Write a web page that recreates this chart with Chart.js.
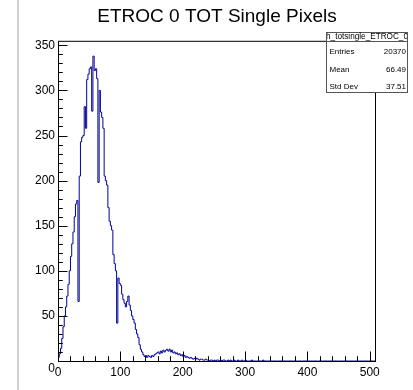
<!DOCTYPE html>
<html>
<head>
<meta charset="utf-8">
<title>ETROC 0 TOT Single Pixels</title>
<script src="https://cdn.jsdelivr.net/npm/chart.js@4.4.1/dist/chart.umd.min.js"></script>
<style>
  body { margin: 0; background: #fff; }
  #wrap { position: relative; width: 413px; height: 390px; }
  #edge { position: absolute; left: 17px; top: 0; width: 2px; height: 390px; background: #cfcfcf; }
</style>
</head>
<body>
<div id="wrap">
  <canvas id="totChart" width="413" height="390"></canvas>
  <div id="edge"></div>
</div>
<script>
const chartTitle = "ETROC 0 TOT Single Pixels";
const histName = "h_totsingle_ETROC_0";
const statLabels = ["Entries", "Mean", "Std Dev"];
const statValues = ["20370", "66.49", "37.51"];

// TOT axis: bins of 2 units from 0 to 510
const xMin = 0;
const xMax = 510;
const binWidth = 2;
const yMax = 355;
const xMajor = 100;
const xMinor = 20;
const yMajor = 50;
const yMinor = 10;

// counts per bin
const counts = [
  4, 8, 14, 25, 38, 50, 60, 72, 85, 100, 116, 130, 143, 160, 174, 178,
  66, 205, 243, 248, 250, 282, 258, 312, 318, 324, 326, 277, 338, 322, 324, 313,
  198, 300, 276, 270, 258, 205, 200, 195, 170, 155, 150, 145, 118, 108, 100, 42,
  92, 86, 84, 74, 68, 64, 60, 66, 72, 62, 56, 50, 46, 42, 35, 30,
  26, 18, 13, 10, 7, 5, 6, 4, 6, 5, 4, 6, 5, 7, 8, 9,
  10, 8, 11, 9, 12, 10, 12, 13, 11, 13, 10, 12, 9, 10, 8, 9,
  7, 8, 6, 7, 5, 6, 4, 5, 4, 3, 4, 3, 2, 3, 2, 3,
  2, 1, 2, 2, 1, 1, 2, 1, 1, 0, 1, 1, 0, 1, 0, 1,
  1, 0, 1, 0, 1, 1, 0, 0, 1, 0, 1, 0, 0, 1, 0, 0,
  1, 0, 0, 1, 0, 0, 1, 0, 0, 0, 0, 1, 0, 0, 0, 0,
  0, 0, 0, 0, 1, 0, 0, 0, 0, 0, 0, 0, 0, 0, 0, 0,
  0, 0, 0, 0, 0, 0, 0, 0, 0, 0, 0, 0, 0, 0, 0, 0,
  0, 0, 0, 0, 0, 0, 0, 0, 0, 0, 0, 0, 0, 0, 0, 0,
  0, 0, 0, 0, 0, 0, 0, 0, 0, 0, 0, 0, 0, 0, 0, 0,
  0, 0, 0, 0, 0, 0, 0, 0, 0, 0, 0, 0, 0, 0, 0, 0,
  0, 0, 0, 0, 0, 0, 0, 0, 0, 0, 0, 0, 0, 0, 0
];

const FONT = '"Liberation Sans", Arial, Helvetica, sans-serif';

function histPoints() {
  const pts = counts.map((c, i) => ({ x: xMin + i * binWidth, y: c }));
  pts.push({ x: xMin + counts.length * binWidth, y: counts[counts.length - 1] });
  return pts;
}

// ROOT style frame, inward ticks and stats box
const rootFrame = {
  id: "rootFrame",
  afterDraw(chart) {
    const { ctx, chartArea: a, scales: { x, y } } = chart;
    ctx.save();
    ctx.strokeStyle = "#000";
    ctx.lineWidth = 1;
    ctx.strokeRect(a.left + 0.5, a.top + 0.5, a.right - a.left - 1, a.bottom - a.top);

    ctx.beginPath();
    x.ticks.forEach((t) => {
      if (t.value % xMinor !== 0) return;
      const px = Math.round(x.getPixelForValue(t.value)) + 0.5;
      const len = t.value % xMajor === 0 ? 9.5 : 4.8;
      ctx.moveTo(px, a.bottom);
      ctx.lineTo(px, a.bottom - len);
    });
    y.ticks.forEach((t) => {
      if (t.value % yMinor !== 0) return;
      const py = Math.round(y.getPixelForValue(t.value)) + 0.5;
      const len = t.value % yMajor === 0 ? 9.5 : 4.8;
      ctx.moveTo(a.left, py);
      ctx.lineTo(a.left + len, py);
    });
    ctx.stroke();

    // stats box
    const bx = 326, by = 32, bw = 82, bh = 61;
    ctx.fillStyle = "#fff";
    ctx.fillRect(bx, by, bw, bh);
    ctx.strokeStyle = "#555";
    ctx.strokeRect(bx + 0.5, by + 0.5, bw - 1, bh - 1);
    ctx.beginPath();
    ctx.moveTo(bx, by + 9.5);
    ctx.lineTo(bx + bw, by + 9.5);
    ctx.stroke();

    ctx.fillStyle = "#000";
    ctx.font = "8.2px " + FONT;
    ctx.textAlign = "center";
    ctx.textBaseline = "alphabetic";
    ctx.save();
    ctx.beginPath();
    ctx.rect(bx + 1, by, bw - 2, 9.5);
    ctx.clip();
    ctx.fillText(histName, bx + bw / 2, by + 7);
    ctx.restore();

    ctx.font = "8px " + FONT;
    const rowY = [54, 71.5, 89];
    statLabels.forEach((lab, i) => {
      ctx.textAlign = "left";
      ctx.fillText(lab, bx + 3.5, rowY[i]);
      ctx.textAlign = "right";
      ctx.fillText(statValues[i], bx + bw - 2, rowY[i]);
    });
    ctx.restore();
  }
};

function yLabel(v) {
  if (v % yMajor !== 0) return "";
  // ROOT drops the origin label a little below the axis
  return v === 0 ? ["", "0"] : v;
}

function renderChart() {
  const ctx = document.getElementById("totChart").getContext("2d");
  new Chart(ctx, {
    type: "line",
    data: {
      datasets: [
        {
          label: histName,
          data: histPoints(),
          stepped: "before",
          borderColor: "rgb(0, 0, 150)",
          borderWidth: 1,
          pointRadius: 0,
          fill: false,
        },
      ],
    },
    options: {
      responsive: false,
      animation: false,
      layout: { padding: { top: 0, right: 37, left: 0, bottom: 0 } },
      plugins: {
        legend: { display: false },
        tooltip: { enabled: false },
        title: {
          display: true,
          text: chartTitle,
          color: "#000",
          fullSize: false,
          font: { family: FONT, size: 19, weight: "normal" },
          padding: { top: 5, bottom: 13 },
        },
      },
      scales: {
        x: {
          type: "linear",
          min: xMin,
          max: xMax,
          grid: { display: false, drawTicks: false },
          border: { display: false },
          ticks: {
            stepSize: xMinor,
            includeBounds: false,
            autoSkip: false,
            maxRotation: 0,
            padding: 4,
            color: "#000",
            font: { family: FONT, size: 12 },
            callback: (v) => (v % xMajor === 0 ? v : ""),
          },
          afterFit: (s) => { s.height = 29; },
        },
        y: {
          min: 0,
          max: yMax,
          grid: { display: false, drawTicks: false },
          border: { display: false },
          ticks: {
            stepSize: yMinor,
            includeBounds: false,
            autoSkip: false,
            padding: 3,
            color: "#000",
            font: { family: FONT, size: 12, lineHeight: 1.2 },
            callback: yLabel,
          },
          afterFit: (s) => { s.width = 58; },
        },
      },
    },
    plugins: [rootFrame],
  });
}

document.addEventListener("DOMContentLoaded", renderChart);
</script>
</body>
</html>
